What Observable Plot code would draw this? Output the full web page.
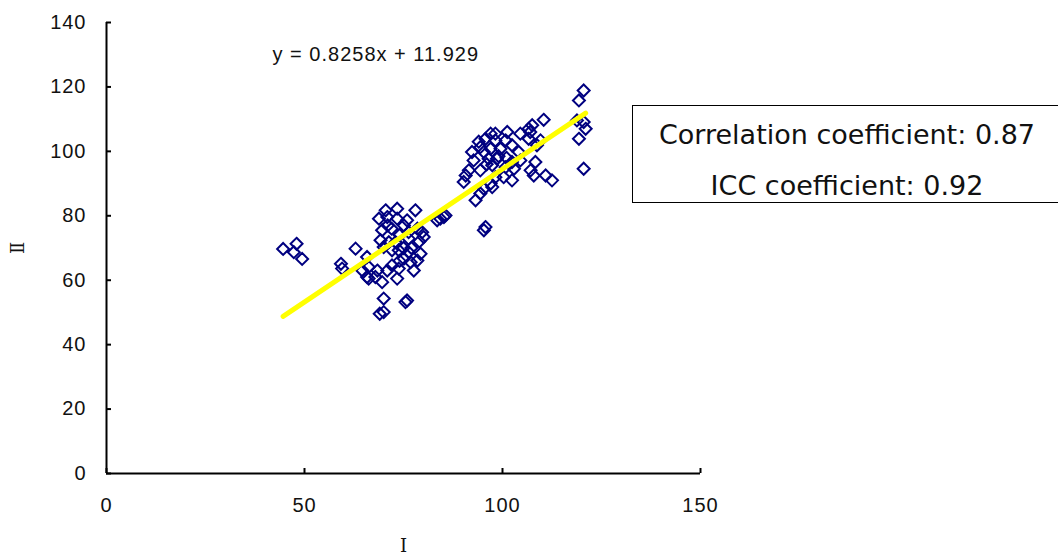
<!DOCTYPE html>
<html>
<head>
<meta charset="utf-8">
<script src="https://cdn.jsdelivr.net/npm/d3@7"></script>
<script src="https://cdn.jsdelivr.net/npm/@observablehq/plot@0.6"></script>
<style>
  html, body { margin: 0; padding: 0; background: #fff; overflow: hidden; }
  #wrap { position: relative; width: 1058px; height: 555px; overflow: hidden; }
  #box {
    position: absolute; left: 632px; top: 105px; width: 440px; height: 98px;
    border: 1.5px solid #000; background: #fff;
    font-family: "DejaVu Sans", Verdana, sans-serif; font-size: 27px; color: #111;
    box-sizing: border-box; padding-top: 3px;
  }
  #box div { text-align: center; width: 428px; height: 51px; line-height: 51px; white-space: nowrap; }
  svg text { letter-spacing: 1px; }
  g[aria-label="equation"] text { letter-spacing: 1.3px; }
  g[aria-label="y-axis label"] text, g[aria-label="x-axis label"] text {
    font-family: "DejaVu Serif", "Liberation Serif", serif; font-size: 18px; letter-spacing: 0;
  }
</style>
</head>
<body>
<div id="wrap">
  <div id="chart"></div>
  <div id="box"></div>
</div>
<script>
// Observer I (x) and observer II (y) measurements
const xValues = [
  44.6, 48.0, 47.3, 49.4, 59.2, 59.5, 62.9, 64.6, 65.8, 65.8,
  66.2, 66.2, 67.9, 68.4, 69.6, 70.9, 72.1, 73.8, 73.4, 75.1,
  76.3, 77.6, 79.3, 78.5, 76.8, 73.8, 72.1, 73.0, 71.3, 69.2,
  70.0, 69.6, 68.8, 70.9, 73.4, 73.4, 70.5, 75.9, 75.1, 78.0,
  76.3, 78.5, 79.7, 80.1, 76.3, 83.5, 85.2, 84.3, 70.0, 70.0,
  69.0, 75.9, 75.5, 71.0, 72.0, 74.0, 75.0, 77.0, 79.0, 74.0,
  120.5, 119.3, 118.8, 120.5, 121.0, 119.3, 120.5, 110.4, 107.5, 106.6,
  107.0, 104.5, 106.6, 109.6, 108.7, 101.2, 98.2, 97.0, 95.7, 94.0,
  94.4, 98.2, 100.8, 102.4, 97.0, 95.3, 92.3, 99.5, 104.1, 98.6,
  96.5, 92.7, 108.3, 104.5, 102.4, 102.9, 100.8, 97.4, 94.4, 91.5,
  90.7, 90.2, 107.1, 107.9, 110.9, 112.5, 100.3, 102.4, 98.2, 97.0,
  97.4, 94.4, 93.2, 95.3, 85.6, 95.7, 95.3, 99.0, 101.0, 96.0
];
const yValues = [
  69.7, 71.3, 68.7, 66.6, 65.1, 63.6, 69.8, 63.0, 61.0, 67.2,
  64.1, 60.5, 61.0, 63.0, 59.4, 63.0, 64.6, 63.6, 60.5, 66.7,
  68.7, 63.0, 68.2, 66.1, 65.6, 69.3, 69.3, 71.8, 71.8, 72.4,
  70.3, 75.5, 79.1, 79.6, 79.1, 82.2, 81.7, 78.6, 77.0, 81.7,
  74.9, 76.0, 74.9, 73.4, 72.9, 78.6, 79.6, 79.1, 54.3, 50.1,
  49.6, 53.7, 53.2, 77.0, 76.0, 74.0, 70.0, 70.0, 72.0, 66.0,
  118.9, 115.8, 109.6, 109.1, 107.0, 103.9, 94.6, 109.8, 108.1, 107.0,
  106.0, 105.5, 103.9, 103.4, 101.9, 106.0, 105.5, 105.5, 103.9, 103.0,
  101.3, 103.4, 103.4, 101.9, 100.8, 99.8, 99.8, 100.8, 99.8, 97.7,
  97.7, 97.2, 96.7, 97.2, 96.7, 94.6, 95.1, 95.7, 94.1, 94.1,
  92.5, 90.5, 94.1, 92.5, 92.5, 91.0, 92.0, 91.0, 92.0, 90.0,
  88.9, 86.9, 84.8, 88.4, 80.1, 76.5, 75.5, 98.5, 98.0, 96.0
];
// Trendline y = slope * x + intercept (as printed on the chart)
const slope = 0.8258;
const intercept = 11.929;
const equationLabel = ["y = 0.8258x + 11.929"];
const equationAnchor = [{x: 68, y: 130}];
const xTicks = [0, 50, 100, 150];
const yTicks = [0, 20, 40, 60, 80, 100, 120, 140];
const xTitle = "Ⅰ";
const yTitle = "Ⅱ";
const statLines = ["Correlation coefficient: 0.87", "ICC coefficient: 0.92"];

const points = xValues.map((x, i) => ({x, y: yValues[i]}));
const [xMin, xMax] = d3.extent(xValues);
const fit = [xMin, xMax].map(x => ({x, y: slope * x + intercept}));

const chart = Plot.plot({
  width: 1058,
  height: 555,
  marginLeft: 106,
  marginRight: 358,
  marginTop: 22,
  marginBottom: 82,
  style: {background: "white", color: "black", fontFamily: "'Liberation Sans', Arial, sans-serif", fontSize: "20px", overflow: "visible"},
  x: {domain: [0, 150]},
  y: {domain: [0, 140]},
  marks: [
    Plot.axisY(yTicks, {tickSize: -5, text: null, label: null, strokeWidth: 2}),
    Plot.axisY(yTicks, {tickSize: 0, tickPadding: 20, label: yTitle, labelAnchor: "center", labelOffset: 95, labelArrow: "none", fill: "#111", fontSize: 20}),
    Plot.axisX(xTicks, {tickSize: -5, text: null, label: null, strokeWidth: 2}),
    Plot.axisX(xTicks, {tickSize: 0, tickPadding: 24, label: xTitle, labelAnchor: "center", labelOffset: 78, labelArrow: "none", fill: "#111", fontSize: 20}),
    Plot.ruleX([0], {stroke: "black", strokeWidth: 2}),
    Plot.ruleY([0], {stroke: "black", strokeWidth: 2}),
    Plot.dot(points, {x: "x", y: "y", symbol: "diamond2", r: 5.4, stroke: "#000080", strokeWidth: 2, fill: "none"}),
    Plot.line(fit, {x: "x", y: "y", stroke: "#ffff00", strokeWidth: 5}),
    Plot.text(equationAnchor, {x: "x", y: "y", text: () => equationLabel[0], fontSize: 20, fill: "#111", ariaLabel: "equation"})
  ]
});
document.getElementById("chart").appendChild(chart);
const box = document.getElementById("box");
statLines.forEach(t => { const d = document.createElement("div"); d.textContent = t; box.appendChild(d); });
</script>
</body>
</html>
